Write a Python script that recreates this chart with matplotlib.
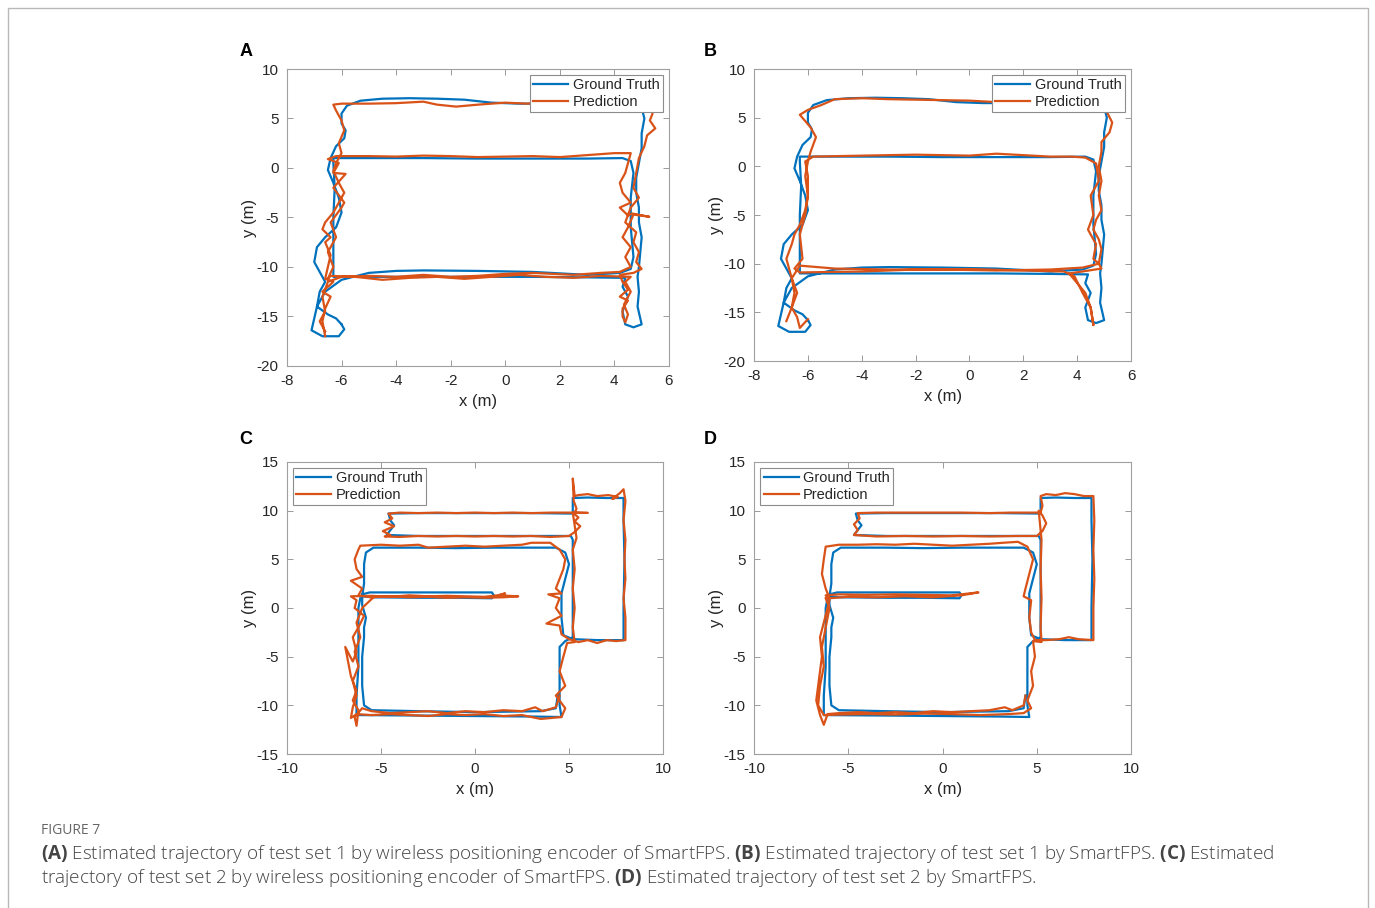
import matplotlib.pyplot as plt
from matplotlib.patches import Rectangle

# ground truth, test set 1 (same walk in A and B)
gt1 = [(-6.0, -15.8), (-6.2, -15.2), (-6.5, -14.8), (-6.9, -14.0), (-6.8, -12.5), (-6.6, -11.5),
       (-6.8, -10.5), (-7.0, -9.5), (-6.9, -8.0), (-6.6, -7.0), (-6.2, -6.0), (-6.0, -4.5),
       (-6.1, -3.0), (-6.3, -1.5), (-6.5, -0.2), (-6.4, 1.0), (-6.2, 2.2), (-5.9, 3.0),
       (-5.85, 3.8), (-6.0, 4.5), (-6.0, 5.5), (-5.8, 6.3), (-5.3, 6.8), (-4.5, 7.0),
       (-3.5, 7.05), (-2.5, 7.0), (-1.5, 6.9), (-0.5, 6.6), (0.5, 6.5), (1.5, 6.5),
       (2.5, 6.5), (3.5, 6.5), (4.5, 6.5), (5.0, 6.1), (5.1, 5.0), (5.0, 3.5), (5.0, 2.0),
       (4.9, 0.5), (4.8, -1.0), (4.8, -2.5), (4.9, -4.0), (4.9, -5.5), (5.0, -7.0),
       (4.95, -8.5), (4.9, -10.0), (4.85, -11.0), (4.9, -12.5), (4.85, -14.0), (5.0, -15.8),
       (4.7, -16.1), (4.4, -15.8), (4.3, -14.5), (4.5, -13.0), (4.3, -12.0), (4.4, -11.1),
       (3.0, -11.05), (1.0, -11.0), (-1.0, -11.0), (-3.0, -11.0), (-5.0, -11.0), (-6.3, -11.0),
       (-6.3, -8.0), (-6.3, -5.0), (-6.25, -2.0), (-6.3, 0.5), (-6.3, 1.0), (-5.0, 1.0),
       (-3.0, 1.0), (-1.0, 0.95), (1.0, 0.95), (3.0, 0.95), (4.3, 1.0), (4.6, 0.7),
       (4.7, -0.5), (4.6, -3.0), (4.6, -6.0), (4.7, -9.0), (4.6, -10.2), (4.2, -10.6),
       (3.0, -10.8), (1.0, -10.5), (-1.0, -10.4), (-3.0, -10.35), (-4.0, -10.4), (-5.0, -10.6),
       (-6.0, -11.3), (-6.6, -12.5), (-6.9, -14.0), (-7.1, -16.4), (-6.7, -17.0), (-6.1, -17.0),
       (-5.9, -16.3), (-6.0, -15.8)]

# prediction, wireless positioning encoder, test set 1 (A)
pred_a = [(-6.6, -17.0), (-6.7, -15.5), (-6.6, -14.2), (-6.4, -13.0), (-6.7, -12.5), (-6.3, -11.5),
          (-6.6, -11.2), (-6.5, -10.0), (-6.4, -8.8), (-6.6, -7.5), (-6.4, -7.0), (-6.7, -6.2),
          (-6.6, -5.5), (-6.3, -4.5), (-6.1, -3.5), (-5.9, -2.5), (-6.1, -1.5), (-6.3, -0.3),
          (-6.2, 0.5), (-6.0, 1.5), (-6.1, 2.5), (-5.9, 3.8), (-6.0, 4.8), (-6.2, 5.8),
          (-6.3, 6.4), (-6.0, 6.5), (-5.0, 6.5), (-4.0, 6.55), (-3.0, 6.7), (-2.5, 6.4),
          (-1.8, 6.2), (-1.0, 6.4), (0.0, 6.6), (0.8, 6.5), (1.5, 6.6), (2.5, 6.55),
          (3.5, 6.5), (4.5, 6.4), (5.3, 6.2), (5.4, 5.5), (5.3, 4.8), (5.5, 4.0), (5.2, 3.3),
          (5.1, 2.2), (4.9, 1.0), (4.8, -0.5), (4.7, -2.0), (4.9, -3.0), (4.6, -4.0),
          (4.4, -5.5), (4.8, -6.5), (4.7, -7.5), (4.9, -8.5), (4.8, -9.5), (5.0, -10.2),
          (4.7, -10.6), (4.2, -10.8), (4.3, -11.5), (4.5, -12.3), (4.2, -13.0), (4.5, -13.4),
          (4.3, -14.2), (4.3, -15.0), (4.4, -15.6), (4.5, -14.8), (4.35, -13.8), (4.6, -12.5),
          (4.4, -11.5), (4.6, -11.0), (3.5, -10.9), (2.5, -11.1), (1.5, -11.0), (0.5, -10.8),
          (-0.5, -11.0), (-1.5, -11.2), (-2.5, -11.0), (-3.5, -11.1), (-4.5, -11.3),
          (-5.5, -11.0), (-6.4, -10.9), (-6.5, -11.2), (-6.3, -10.0), (-6.5, -8.5), (-6.2, -7.0),
          (-6.4, -5.5), (-6.0, -4.0), (-5.9, -3.5), (-6.3, -2.0), (-5.85, -0.6), (-6.3, -0.5),
          (-6.1, 0.5), (-6.5, 0.9), (-6.2, 1.2), (-5.0, 1.2), (-4.0, 1.15), (-3.0, 1.25),
          (-2.0, 1.2), (-1.0, 1.1), (0.0, 1.15), (1.0, 1.2), (2.0, 1.1), (3.0, 1.3), (4.0, 1.5),
          (4.6, 1.5), (4.5, 0.5), (4.4, -0.5), (4.2, -1.5), (4.3, -2.5), (4.6, -3.5),
          (4.2, -4.0), (4.5, -4.8), (4.65, -4.6), (5.28, -4.93), (4.7, -4.7), (4.5, -6.0),
          (4.3, -7.0), (4.6, -8.0), (4.4, -9.0), (4.6, -10.0), (4.2, -10.5), (3.5, -10.6),
          (2.5, -10.8), (1.0, -10.6), (0.0, -10.7), (-1.0, -10.9), (-2.0, -11.0), (-3.0, -10.8),
          (-4.0, -11.0), (-5.0, -10.9), (-6.0, -11.0), (-6.5, -11.5), (-6.7, -13.0),
          (-6.6, -14.5), (-6.8, -15.5), (-6.6, -16.5)]

# prediction, SmartFPS, test set 1 (B)
pred_b = [(-6.8, -15.9), (-6.6, -14.5), (-6.4, -13.0), (-6.6, -11.5), (-6.7, -10.5), (-6.8, -9.5),
          (-6.6, -8.0), (-6.5, -7.0), (-6.3, -6.0), (-6.1, -4.5), (-6.0, -3.0), (-6.1, -1.0),
          (-6.0, 0.5), (-5.9, 1.5), (-5.7, 3.0), (-5.9, 4.0), (-6.3, 5.3), (-6.0, 5.8),
          (-5.5, 6.3), (-5.0, 6.9), (-4.0, 7.0), (-3.0, 6.9), (-2.0, 6.85), (-1.0, 6.8),
          (0.0, 6.75), (1.0, 6.6), (2.0, 6.6), (3.0, 6.6), (4.5, 6.3), (5.1, 5.6), (5.3, 4.5),
          (5.2, 3.5), (4.9, 2.5), (4.9, 1.5), (4.8, 0.0), (4.9, -1.5), (4.8, -3.0), (4.9, -4.5),
          (4.7, -5.5), (4.6, -6.5), (4.8, -7.5), (4.9, -8.5), (4.8, -10.0), (4.9, -10.5),
          (4.2, -10.8), (3.7, -11.0), (4.0, -12.0), (4.3, -13.0), (4.5, -14.5), (4.6, -16.3),
          (4.5, -14.5), (4.2, -13.0), (3.9, -11.3), (3.5, -10.8), (2.0, -10.7), (0.0, -10.55),
          (-2.0, -10.6), (-4.0, -10.8), (-6.3, -10.9), (-6.5, -10.5), (-6.2, -9.5), (-6.3, -7.0),
          (-6.1, -5.0), (-6.0, -3.0), (-6.0, -1.0), (-6.1, 0.5), (-5.8, 1.0), (-4.0, 1.1),
          (-2.0, 1.2), (0.0, 1.1), (1.0, 1.3), (2.0, 1.15), (3.0, 1.0), (3.8, 1.0), (4.3, 0.9),
          (4.7, 0.3), (4.8, -1.5), (4.5, -3.0), (4.6, -5.0), (4.4, -6.5), (4.7, -8.0),
          (4.6, -9.5), (4.8, -10.0), (4.2, -10.4), (3.0, -10.6), (1.0, -10.7), (-1.0, -10.6),
          (-3.0, -10.6), (-5.0, -10.5), (-6.3, -10.2), (-6.6, -11.5), (-6.5, -13.0),
          (-6.6, -14.5), (-6.4, -15.5), (-6.3, -16.6), (-6.0, -15.7)]

# ground truth, test set 2 (same walk in C and D)
gt2 = [(4.4, -9.0), (4.3, -10.3), (3.5, -10.6), (0.0, -10.7), (-3.0, -10.6), (-5.5, -10.5),
       (-5.9, -10.0), (-6.0, -8.0), (-6.0, -5.0), (-5.9, -3.0), (-5.9, -2.0), (-5.8, -1.0),
       (-6.0, 0.3), (-6.0, 1.4), (-5.6, 1.6), (-3.0, 1.6), (-1.0, 1.6), (0.9, 1.6), (1.0, 1.3),
       (0.9, 1.0), (-1.0, 1.05), (-3.0, 1.05), (-5.5, 1.1), (-6.0, 1.2), (-5.9, 2.5),
       (-5.9, 4.5), (-5.8, 5.7), (-5.4, 6.2), (-3.0, 6.2), (-1.0, 6.15), (1.0, 6.2), (3.0, 6.2),
       (4.3, 6.2), (4.8, 5.7), (5.0, 4.5), (4.8, 3.0), (4.6, 1.5), (4.6, -1.0), (4.7, -2.8),
       (5.2, -3.2), (6.5, -3.3), (7.9, -3.3), (7.9, 0.0), (7.95, 5.0), (7.9, 9.0), (7.9, 11.3),
       (7.0, 11.3), (6.0, 11.35), (5.2, 11.3), (5.2, 10.5), (5.2, 9.7), (3.0, 9.75), (0.0, 9.75),
       (-3.0, 9.75), (-4.6, 9.7), (-4.5, 9.0), (-4.3, 8.5), (-4.5, 8.0), (-4.7, 7.5),
       (-3.0, 7.4), (0.0, 7.4), (3.0, 7.4), (5.1, 7.4), (5.2, 7.0), (5.2, 4.0), (5.2, 0.0),
       (5.2, -3.0), (4.8, -3.4), (4.5, -4.0), (4.5, -7.0), (4.5, -10.0), (4.6, -11.2),
       (3.0, -11.15), (0.0, -11.1), (-3.0, -11.05), (-6.3, -11.0), (-6.3, -9.0), (-6.2, -6.0),
       (-6.2, -3.0), (-6.2, 0.0), (-6.1, 1.0)]

# prediction, wireless positioning encoder, test set 2 (C)
pred_c = [(4.5, -9.0), (4.3, -10.2), (3.6, -10.6), (3.2, -10.2), (2.5, -10.6), (1.5, -10.5),
          (0.5, -10.7), (-0.5, -10.6), (-1.5, -10.8), (-2.5, -10.6), (-3.5, -10.7), (-4.5, -10.8),
          (-5.5, -10.6), (-6.0, -10.3), (-6.4, -11.2), (-6.3, -12.1), (-6.2, -10.5), (-6.5, -9.5),
          (-6.3, -8.5), (-6.6, -7.0), (-6.9, -4.0), (-6.5, -5.5), (-6.3, -4.5), (-6.5, -3.0),
          (-6.2, -2.0), (-5.9, -0.8), (-6.4, 0.0), (-6.3, 0.8), (-6.6, 1.2), (-5.5, 1.25),
          (-4.5, 1.15), (-3.5, 1.3), (-2.5, 1.2), (-1.5, 1.25), (-0.5, 1.2), (0.5, 1.15),
          (1.2, 1.3), (1.6, 1.5), (1.3, 1.3), (2.3, 1.2), (1.5, 1.1), (0.5, 1.05), (-0.5, 1.1),
          (-1.5, 1.05), (-2.5, 1.15), (-3.5, 1.1), (-4.5, 1.2), (-5.5, 1.1), (-6.2, 1.3),
          (-6.0, 2.0), (-6.6, 2.8), (-6.0, 3.2), (-6.3, 4.0), (-6.4, 5.0), (-6.2, 6.0),
          (-6.1, 6.4), (-5.0, 6.5), (-4.0, 6.4), (-3.0, 6.5), (-2.5, 6.2), (-1.5, 6.3),
          (-0.5, 6.4), (0.5, 6.3), (1.5, 6.4), (2.5, 6.5), (3.0, 6.7), (4.0, 6.7), (4.5, 6.0),
          (4.8, 5.0), (4.7, 4.0), (4.5, 3.0), (4.3, 2.0), (4.6, 1.5), (3.9, 1.4), (4.5, 1.0),
          (4.3, 0.0), (4.6, -0.8), (3.8, -1.6), (4.5, -1.8), (4.6, -2.7), (5.0, -3.2),
          (5.5, -3.5), (6.0, -3.3), (6.5, -3.6), (7.0, -3.3), (7.5, -3.4), (8.0, -3.3),
          (8.0, -1.0), (7.9, 1.0), (8.0, 3.0), (7.95, 5.0), (8.0, 7.0), (7.9, 9.0), (8.0, 11.0),
          (7.9, 12.2), (7.7, 11.8), (7.3, 11.2), (7.6, 11.4), (7.1, 11.6), (6.5, 11.5),
          (6.0, 11.7), (5.5, 11.6), (5.3, 11.5), (5.2, 13.3), (5.25, 11.0), (5.4, 10.2),
          (5.3, 9.8), (6.0, 9.77), (5.0, 9.8), (4.0, 9.8), (3.0, 9.75), (2.0, 9.8), (1.0, 9.75),
          (0.0, 9.8), (-1.0, 9.75), (-2.0, 9.8), (-3.0, 9.75), (-4.0, 9.8), (-4.6, 9.7),
          (-4.4, 9.2), (-4.8, 8.8), (-4.3, 8.4), (-4.9, 7.9), (-4.5, 7.5), (-4.8, 7.35),
          (-4.0, 7.3), (-3.0, 7.4), (-2.0, 7.35), (-1.0, 7.4), (0.0, 7.35), (1.0, 7.4),
          (2.0, 7.35), (3.0, 7.4), (4.0, 7.3), (5.0, 7.4), (5.3, 7.8), (5.6, 8.4), (5.3, 8.9),
          (5.5, 9.3), (5.2, 9.8), (5.4, 7.2), (5.2, 6.0), (5.3, 4.0), (5.2, 2.0), (5.3, 0.0),
          (5.2, -2.0), (5.3, -3.5), (4.9, -3.6), (4.7, -5.0), (4.5, -6.5), (4.8, -8.0),
          (4.3, -9.0), (4.8, -10.3), (4.6, -11.2), (3.5, -11.4), (2.5, -11.0), (1.5, -11.1),
          (0.5, -10.9), (-0.5, -11.0), (-1.5, -10.9), (-2.5, -11.1), (-3.5, -11.0),
          (-4.5, -10.9), (-5.5, -11.0), (-6.3, -10.9), (-6.6, -11.3), (-6.5, -10.2),
          (-6.3, -9.0), (-6.5, -7.5), (-6.2, -6.0), (-6.4, -4.5), (-6.1, -3.0), (-6.3, -1.5),
          (-6.0, 0.0), (-5.4, 1.1)]

# prediction, SmartFPS, test set 2 (D)
pred_d = [(4.4, -9.0), (4.3, -10.0), (3.7, -10.5), (3.3, -10.2), (2.5, -10.5), (1.5, -10.6),
          (0.5, -10.7), (-0.5, -10.6), (-1.5, -10.8), (-2.5, -10.7), (-3.5, -10.8), (-4.5, -10.7),
          (-5.5, -10.8), (-6.1, -10.9), (-6.3, -12.0), (-6.5, -11.0), (-6.7, -9.5), (-6.6, -8.0),
          (-6.5, -6.5), (-6.4, -5.0), (-6.5, -3.0), (-6.3, -1.5), (-6.1, 0.0), (-6.0, 0.8),
          (-6.2, 1.3), (-5.5, 1.4), (-4.0, 1.35), (-2.5, 1.4), (-1.0, 1.35), (0.5, 1.3),
          (1.9, 1.6), (1.0, 1.3), (-0.5, 1.1), (-2.0, 1.2), (-3.5, 1.1), (-5.0, 1.15),
          (-6.0, 1.0), (-6.2, 2.0), (-6.4, 3.5), (-6.3, 5.0), (-6.2, 6.3), (-5.5, 6.5),
          (-4.5, 6.5), (-3.5, 6.55), (-2.5, 6.5), (-1.5, 6.6), (-0.5, 6.5), (0.5, 6.4),
          (1.5, 6.5), (2.5, 6.6), (3.2, 6.7), (4.0, 6.8), (4.5, 6.3), (4.8, 5.0), (4.6, 3.5),
          (4.4, 2.0), (4.3, 1.2), (4.7, 0.8), (4.6, -1.0), (4.7, -2.5), (4.9, -3.3), (5.5, -3.3),
          (6.2, -3.2), (6.7, -3.0), (7.2, -3.2), (8.0, -3.3), (8.0, 0.0), (8.05, 3.0), (8.0, 6.0),
          (8.05, 9.0), (8.0, 11.5), (7.5, 11.5), (7.0, 11.7), (6.5, 11.8), (6.0, 11.6),
          (5.5, 11.7), (5.2, 11.5), (5.3, 10.5), (5.2, 9.8), (4.4, 9.8), (3.6, 9.8), (2.5, 9.75),
          (1.0, 9.8), (-0.5, 9.8), (-2.0, 9.8), (-3.5, 9.8), (-4.5, 9.75), (-4.4, 9.2),
          (-4.7, 8.6), (-4.5, 8.0), (-4.7, 7.5), (-3.5, 7.35), (-2.0, 7.4), (-0.5, 7.35),
          (1.0, 7.4), (2.5, 7.35), (4.0, 7.4), (5.0, 7.4), (5.3, 7.9), (5.5, 8.7), (5.3, 9.5),
          (5.1, 10.0), (5.25, 7.0), (5.2, 4.0), (5.25, 1.0), (5.2, -2.0), (5.25, -3.5),
          (4.8, -3.4), (4.9, -5.0), (4.7, -6.5), (4.8, -8.0), (4.5, -9.5), (4.7, -10.3),
          (4.3, -10.8), (3.5, -10.9), (2.0, -11.0), (0.5, -10.9), (-1.0, -10.85), (-2.5, -10.95),
          (-4.0, -10.9), (-5.5, -10.95), (-6.3, -11.0), (-6.6, -10.0), (-6.5, -8.0),
          (-6.3, -6.0), (-6.4, -4.0), (-6.2, -2.0), (-6.0, 0.0), (-6.2, 1.0)]

panels = [
    ('A', gt1, pred_a, (-8, 6), (-20, 10), [-8, -6, -4, -2, 0, 2, 4, 6], [-20, -15, -10, -5, 0, 5, 10], 'upper right'),
    ('B', gt1, pred_b, (-8, 6), (-20, 10), [-8, -6, -4, -2, 0, 2, 4, 6], [-20, -15, -10, -5, 0, 5, 10], 'upper right'),
    ('C', gt2, pred_c, (-10, 10), (-15, 15), [-10, -5, 0, 5, 10], [-15, -10, -5, 0, 5, 10, 15], 'upper left'),
    ('D', gt2, pred_d, (-10, 10), (-15, 15), [-10, -5, 0, 5, 10], [-15, -10, -5, 0, 5, 10, 15], 'upper left'),
]
# axes boxes in figure fractions (left, bottom, width, height)
boxes = [
    [0.2087, 0.5970, 0.2778, 0.3270],
    [0.5484, 0.6024, 0.2742, 0.3216],
    [0.2087, 0.1696, 0.2735, 0.3216],
    [0.5484, 0.1696, 0.2742, 0.3216],
]
letter_pos = [(0.1789, 0.943), (0.5164, 0.943), (0.1789, 0.516), (0.5164, 0.516)]

plt.rcParams['font.family'] = ['Liberation Sans', 'DejaVu Sans']
plt.rcParams['axes.unicode_minus'] = False
BLUE = '#0072BD'
RED = '#D95319'

fig = plt.figure(figsize=(13.75, 9.08), dpi=100)
fig.patches.append(Rectangle((8 / 1375, -0.01), 1360 / 1375, 1.0 - 8 / 908 + 0.01,
                             transform=fig.transFigure, fill=False,
                             edgecolor='#b8b8b8', linewidth=1.0))

for (letter, gt, pred, xl, yl, xt, yt, loc), box, lp in zip(panels, boxes, letter_pos):
    ax = fig.add_axes(box)
    ax.plot([p[0] for p in gt], [p[1] for p in gt], color=BLUE, lw=1.6, label='Ground Truth')
    ax.plot([p[0] for p in pred], [p[1] for p in pred], color=RED, lw=1.6, label='Prediction')
    ax.set_xlim(xl)
    ax.set_ylim(yl)
    ax.set_xticks(xt)
    ax.set_yticks(yt)
    ax.tick_params(direction='in', top=True, right=True, length=4, width=0.7,
                   color='#9a9a9a', labelsize=11, labelcolor='#262626', pad=6)
    for s in ax.spines.values():
        s.set_edgecolor('#a0a0a0')
        s.set_linewidth(0.8)
    ax.set_xlabel('x (m)', fontsize=12, color='#262626', labelpad=4)
    ax.set_ylabel('y (m)', fontsize=12, color='#262626', labelpad=0)
    leg = ax.legend(loc=loc, fontsize=10.5, frameon=True, fancybox=False, framealpha=1,
                    edgecolor='#8c8c8c', borderpad=0.25, handlelength=2.4, handletextpad=0.3,
                    labelspacing=0.15, borderaxespad=0.4)
    leg.get_frame().set_linewidth(0.8)
    for t in leg.get_texts():
        t.set_color('#262626')
    fig.text(lp[0], lp[1], letter, fontsize=13, fontweight='bold', ha='center', va='center')

plt.rcParams['mathtext.fontset'] = 'custom'
plt.rcParams['mathtext.rm'] = 'Open Sans'
plt.rcParams['mathtext.bf'] = 'Open Sans:bold'

fig.text(41 / 1375, 1 - 831 / 908, 'FIGURE 7', fontsize=10, color='#666666',
         family='Open Sans', va='center')
line1 = (r'$\mathbf{(A)}$ Estimated trajectory of test set 1 by wireless positioning encoder of SmartFPS. '
         r'$\mathbf{(B)}$ Estimated trajectory of test set 1 by SmartFPS. $\mathbf{(C)}$ Estimated')
line2 = (r'trajectory of test set 2 by wireless positioning encoder of SmartFPS. '
         r'$\mathbf{(D)}$ Estimated trajectory of test set 2 by SmartFPS.')
fig.text(41 / 1375, 1 - 854 / 908, line1, fontsize=13.6, color='#444444',
         family='Open Sans', fontweight='light', va='center')
fig.text(41 / 1375, 1 - 878 / 908, line2, fontsize=13.6, color='#444444',
         family='Open Sans', fontweight='light', va='center')

fig.savefig('out.png', dpi=100)
